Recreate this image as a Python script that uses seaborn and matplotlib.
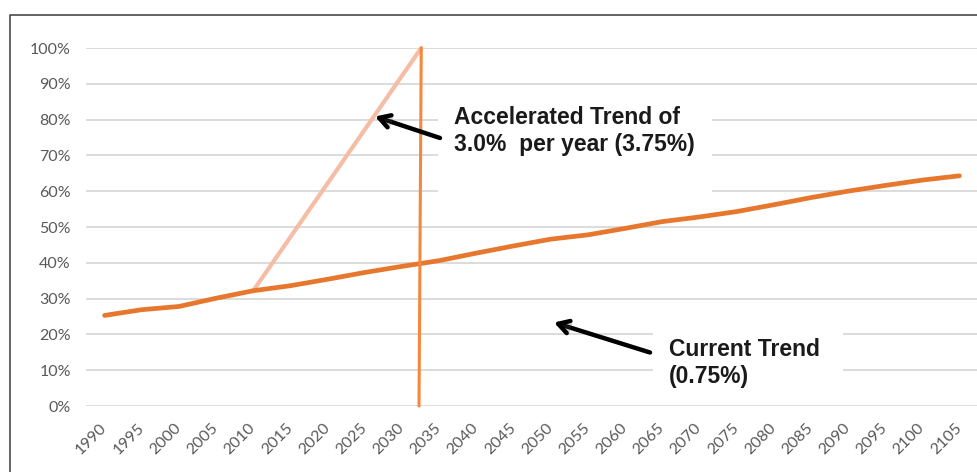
import matplotlib
matplotlib.use("Agg")
import matplotlib.pyplot as plt
import matplotlib.patheffects as pe
from matplotlib.patches import Rectangle
import seaborn as sns
import pandas as pd

# ---- data ----
years = list(range(1990, 2106, 5))
current_trend = [25.3, 26.9, 27.8, 30.1, 32.2, 33.6, 35.4, 37.3, 39.0,
                 40.6, 42.7, 44.7, 46.6, 47.8, 49.6, 51.5,
                 52.8, 54.3, 56.2, 58.2, 60.0, 61.6, 63.1, 64.3]
accel_x = [2010, 2032.6]
accel_y = [32.2, 100.0]
cutoff_x = [2032.6, 2032.3]
cutoff_y = [100.0, 0.0]
y_ticks = list(range(0, 101, 10))
label_accel = ["Accelerated Trend of", "3.0%  per year (3.75%)"]
label_current = ["Current Trend", "(0.75%)"]

W, H = 978, 472
sns.set_theme(style="white")
plt.rcParams["font.family"] = ["Lato", "DejaVu Sans"]

fig = plt.figure(figsize=(W / 100, H / 100), dpi=100)
fig.patch.set_facecolor("white")
ax = fig.add_axes([86 / W, (H - 406) / H, (W - 86) / W, (406 - 48) / H])

df_cur = pd.DataFrame({"year": years, "value": current_trend})
df_acc = pd.DataFrame({"year": accel_x, "value": accel_y})
df_cut = pd.DataFrame({"year": cutoff_x, "value": cutoff_y})

sns.lineplot(data=df_acc, x="year", y="value", ax=ax, color="#F6BDA6",
             lw=3.0, sort=False, estimator=None, zorder=2, clip_on=False)
sns.lineplot(data=df_cur, x="year", y="value", ax=ax, color="#E8772E",
             lw=3.4, sort=False, estimator=None, zorder=3,
             solid_capstyle="round", clip_on=False)
sns.lineplot(data=df_cut, x="year", y="value", ax=ax, color="#F4883C",
             lw=2.2, sort=False, estimator=None, zorder=4, clip_on=False)

ax.set_xlim(1987.5, 2107.5)
ax.set_ylim(0, 100)
ax.set_xticks(years)
ax.set_xticklabels([str(y) for y in years], rotation=45, ha="right",
                   va="center", rotation_mode="anchor")
ax.set_yticks(y_ticks)
ax.set_yticklabels([f"{v}%" for v in y_ticks])
ax.tick_params(axis="both", length=0, labelsize=11.5, labelcolor="#595959")
ax.tick_params(axis="y", pad=11)
ax.tick_params(axis="x", pad=14)
ax.set_xlabel("")
ax.set_ylabel("")
for s in ax.spines.values():
    s.set_visible(False)
ax.set_axisbelow(True)
ax.yaxis.grid(True, color="#D9D9D9", lw=1.3)
ax.xaxis.grid(False)
ax.set_facecolor("white")

# white boxes behind the annotations (interrupting gridlines)
def fig_rect(x0, y0, x1, y1):
    return Rectangle((x0 / W, 1 - y1 / H), (x1 - x0) / W, (y1 - y0) / H,
                     transform=fig.transFigure, facecolor="white",
                     edgecolor="none", zorder=1.5, clip_on=False)

ax.add_patch(fig_rect(438, 92, 712, 208))
ax.add_patch(fig_rect(653, 312, 843, 394))

def ftext(x, y, s):
    fig.text(x / W, 1 - y / H, s, fontsize=16.5, fontweight="bold",
             family=["Liberation Sans", "DejaVu Sans"], color="#1A1A1A",
             ha="left", va="center", zorder=6)

ftext(454, 117, label_accel[0])
ftext(454, 144, label_accel[1])
ftext(669, 350, label_current[0])
ftext(669, 377, label_current[1])

arrow_kw = dict(arrowstyle="->,head_length=0.65,head_width=0.38", lw=3.2,
                color="black", shrinkA=0, shrinkB=0,
                path_effects=[pe.SimplePatchShadow(offset=(1.5, -1.5), alpha=0.25),
                              pe.Normal()])
fig.add_artist(plt.Annotation("", xy=(375 / W, 1 - 116.5 / H), xycoords="figure fraction",
                              xytext=(440 / W, 1 - 138 / H), textcoords="figure fraction",
                              arrowprops=arrow_kw))
fig.add_artist(plt.Annotation("", xy=(554 / W, 1 - 322.5 / H), xycoords="figure fraction",
                              xytext=(650 / W, 1 - 352.5 / H), textcoords="figure fraction",
                              arrowprops=arrow_kw))

# outer chart border (top and left edges visible)
fig.add_artist(plt.Line2D([10 / W, 10 / W, 1.01], [-0.01, 1 - 15 / H, 1 - 15 / H],
                          transform=fig.transFigure, color="#3A3A3A", lw=1.1))

fig.savefig("out.png", dpi=100, facecolor="white")
